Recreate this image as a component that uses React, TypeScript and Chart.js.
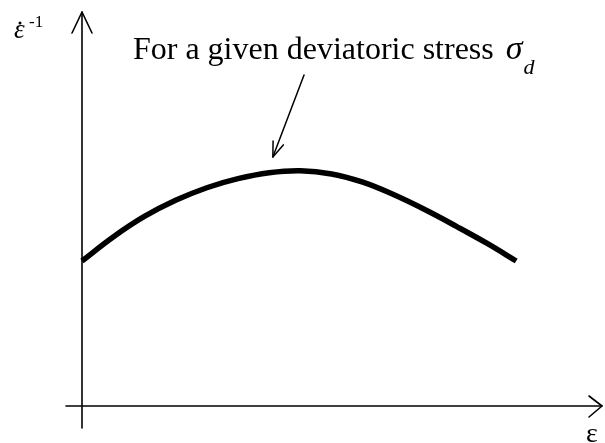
import { useEffect, useRef } from "react";
import { Chart, registerables } from "chart.js";

Chart.register(...registerables);

// Strain (ε) along the horizontal axis, inverse strain rate along the vertical one.
const strain = [0, 0.6, 1.2, 1.8, 2.4, 3.0, 3.6, 4.2, 4.8, 5.4, 6.0, 6.6, 7.2, 7.8, 8.35];
const inverseRate = [3.68, 4.29, 4.81, 5.22, 5.54, 5.77, 5.92, 5.97, 5.89, 5.68, 5.36, 4.98, 4.56, 4.12, 3.68];

const xLabel = "ε";
const yLabel = "ε";
const yLabelPower = "-1";
const noteText = "For a given deviatoric stress";
const noteSymbol = "σ";
const noteSubscript = "d";

const SERIF = "'Liberation Serif', 'Times New Roman', serif";

const sketchPlugin = {
  id: "sketch",
  beforeDatasetsDraw(chart: Chart) {
    const { ctx, chartArea } = chart;
    const xs = chart.scales.x;
    const ys = chart.scales.y;
    const x0 = xs.getPixelForValue(0);
    const y0 = ys.getPixelForValue(0);
    const top = chartArea.top;
    const right = chartArea.right;

    ctx.save();
    ctx.strokeStyle = "#000";
    ctx.lineWidth = 1.6;
    ctx.lineCap = "round";
    ctx.lineJoin = "round";

    // vertical axis, running a little below the horizontal one
    ctx.beginPath();
    ctx.moveTo(x0, y0 + 22);
    ctx.lineTo(x0, top);
    ctx.stroke();
    // its open arrow head
    ctx.beginPath();
    ctx.moveTo(x0 - 10, top + 21);
    ctx.lineTo(x0, top);
    ctx.lineTo(x0 + 10, top + 21);
    ctx.stroke();

    // horizontal axis, starting a little left of the vertical one
    ctx.beginPath();
    ctx.moveTo(x0 - 16, y0);
    ctx.lineTo(right, y0);
    ctx.stroke();
    ctx.beginPath();
    ctx.moveTo(right - 13, y0 - 10);
    ctx.lineTo(right, y0);
    ctx.lineTo(right - 13, y0 + 11);
    ctx.stroke();

    // axis labels
    ctx.fillStyle = "#000";
    ctx.textBaseline = "alphabetic";
    ctx.textAlign = "left";
    ctx.font = `28px ${SERIF}`;
    ctx.fillText(xLabel, right - 16, y0 + 36);

    ctx.font = `italic 27px ${SERIF}`;
    const lx = x0 - 68;
    const ly = top + 26;
    ctx.fillText(yLabel, lx, ly);
    ctx.beginPath();
    ctx.arc(lx + 6, ly - 15, 1.5, 0, Math.PI * 2);
    ctx.fill();
    ctx.font = `17px ${SERIF}`;
    ctx.fillText(yLabelPower, lx + 15, ly - 11);

    // annotation arrow pointing at the curve
    const tipX = xs.getPixelForValue(3.67);
    const tipY = ys.getPixelForValue(6.32);
    const tailX = xs.getPixelForValue(4.27);
    const tailY = ys.getPixelForValue(8.4);
    ctx.lineWidth = 1.5;
    ctx.beginPath();
    ctx.moveTo(tailX, tailY);
    ctx.lineTo(tipX, tipY);
    ctx.stroke();
    const ang = Math.atan2(tailY - tipY, tailX - tipX);
    const spread = (20 * Math.PI) / 180;
    const len = 16;
    ctx.beginPath();
    ctx.moveTo(tipX + len * Math.cos(ang - spread), tipY + len * Math.sin(ang - spread));
    ctx.lineTo(tipX, tipY);
    ctx.lineTo(tipX + len * Math.cos(ang + spread), tipY + len * Math.sin(ang + spread));
    ctx.stroke();

    // annotation text
    const tx = xs.getPixelForValue(0.98);
    const ty = ys.getPixelForValue(8.81);
    ctx.font = `32px ${SERIF}`;
    ctx.fillText(noteText, tx, ty);
    const w = ctx.measureText(noteText).width;
    ctx.font = `italic 34px ${SERIF}`;
    const sx = tx + w + 12;
    ctx.fillText(noteSymbol, sx, ty);
    const sw = ctx.measureText(noteSymbol).width;
    ctx.font = `italic 22px ${SERIF}`;
    ctx.fillText(noteSubscript, sx + sw + 1, ty + 15);

    ctx.restore();
  },
};

export default function App() {
  const canvasRef = useRef<HTMLCanvasElement | null>(null);

  useEffect(() => {
    const canvas = canvasRef.current;
    if (!canvas) return;
    const chart = new Chart(canvas, {
      type: "line",
      data: {
        labels: strain,
        datasets: [
          {
            data: strain.map((s, i) => ({ x: s, y: inverseRate[i] })),
            borderColor: "#000",
            borderWidth: 5.5,
            borderCapStyle: "butt",
            pointRadius: 0,
            tension: 0.4,
            fill: false,
            clip: false,
          },
        ],
      },
      options: {
        responsive: false,
        animation: false,
        devicePixelRatio: 1,
        layout: { padding: { left: 82, right: 3, top: 12, bottom: 37 } },
        plugins: { legend: { display: false }, tooltip: { enabled: false } },
        events: [],
        scales: {
          x: { type: "linear", min: 0, max: 10, display: false },
          y: { type: "linear", min: 0, max: 10, display: false },
        },
      },
      plugins: [sketchPlugin],
    });
    return () => chart.destroy();
  }, []);

  return (
    <div style={{ position: "fixed", left: 0, top: 0, width: 605, height: 443, background: "#fff" }}>
      <canvas ref={canvasRef} width={605} height={443} style={{ display: "block" }} />
    </div>
  );
}
